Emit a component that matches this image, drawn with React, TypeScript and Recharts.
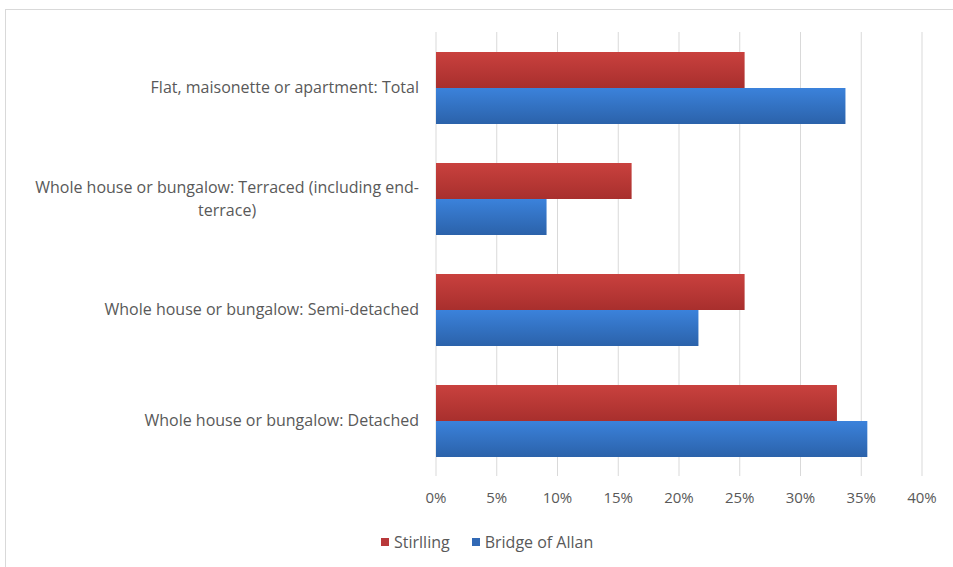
import React from "react";
import { BarChart, Bar, XAxis, YAxis, CartesianGrid } from "recharts";

const categories = [
  "Flat, maisonette or apartment: Total",
  "Whole house or bungalow: Terraced (including end-|terrace)",
  "Whole house or bungalow: Semi-detached",
  "Whole house or bungalow: Detached",
];
const stirlling = [25.4, 16.1, 25.4, 33.0];
const bridgeOfAllan = [33.7, 9.1, 21.6, 35.5];
const xTicks = [0, 5, 10, 15, 20, 25, 30, 35, 40];

const data = categories.map((name, i) => ({
  name,
  stirlling: stirlling[i],
  bridge: bridgeOfAllan[i],
}));

const FONT = "'Open Sans', sans-serif";
const TEXT = "#595959";
const LABEL_SIZE = 16;

let ctx: CanvasRenderingContext2D | null = null;
function measure(s: string, size: number) {
  if (!ctx) ctx = document.createElement("canvas").getContext("2d");
  if (!ctx) return s.length * size * 0.5;
  ctx.font = `${size}px ${FONT}`;
  return ctx.measureText(s).width;
}

function CategoryTick({ x, y, payload }: any) {
  const lines = String(payload.value).split("|");
  const right = x - 9;
  if (lines.length === 1) {
    return (
      <text x={right} y={y} dy="0.35em" textAnchor="end" fill={TEXT} fontSize={LABEL_SIZE} fontFamily={FONT}>
        {lines[0]}
      </text>
    );
  }
  const w = measure(lines[0], LABEL_SIZE);
  const cx = right - w / 2;
  const lh = 23;
  const top = y - ((lines.length - 1) * lh) / 2;
  return (
    <g>
      {lines.map((l, i) => (
        <text key={i} x={cx} y={top + i * lh} dy="0.35em" textAnchor="middle" fill={TEXT} fontSize={LABEL_SIZE} fontFamily={FONT}>
          {l}
        </text>
      ))}
    </g>
  );
}

export default function App() {
  return (
    <div style={{ position: "absolute", left: 0, top: 0, width: 953, height: 567, overflow: "hidden", background: "#fff" }}>
      <div style={{ position: "absolute", left: 5, top: 9, width: 980, height: 600, border: "1px solid #d9d9d9" }} />
      <div style={{ position: "absolute", left: 0, top: 0 }}>
        <BarChart
          width={953}
          height={567}
          data={data}
          layout="vertical"
          margin={{ top: 32, right: 31, bottom: 51, left: 0 }}
          barGap={0}
        >
          <defs>
            <linearGradient id="redGrad" x1="0" y1="0" x2="0" y2="1">
              <stop offset="0%" stopColor="#c9413e" />
              <stop offset="100%" stopColor="#a82f2d" />
            </linearGradient>
            <linearGradient id="blueGrad" x1="0" y1="0" x2="0" y2="1">
              <stop offset="0%" stopColor="#3b82db" />
              <stop offset="100%" stopColor="#2b62aa" />
            </linearGradient>
          </defs>
          <CartesianGrid horizontal={false} stroke="#d9d9d9" />
          <XAxis
            type="number"
            domain={[0, 40]}
            ticks={xTicks}
            tickFormatter={(v) => `${v}%`}
            axisLine={false}
            tickLine={false}
            height={40}
            tickMargin={10}
            tick={{ fill: TEXT, fontSize: 15, fontFamily: FONT }}
          />
          <YAxis
            type="category"
            dataKey="name"
            width={436}
            axisLine={false}
            tickLine={false}
            tick={<CategoryTick />}
          />
          <Bar dataKey="stirlling" name="Stirlling" fill="url(#redGrad)" barSize={36} isAnimationActive={false} />
          <Bar dataKey="bridge" name="Bridge of Allan" fill="url(#blueGrad)" barSize={36} isAnimationActive={false} />
        </BarChart>
      </div>
      <div
        style={{
          position: "absolute",
          left: 381,
          top: 531,
          display: "flex",
          gap: 22,
          fontFamily: FONT,
          fontSize: 16,
          color: TEXT,
        }}
      >
        {[
          { label: "Stirlling", color: "#b8383a" },
          { label: "Bridge of Allan", color: "#3169b5" },
        ].map((it) => (
          <div key={it.label} style={{ display: "flex", alignItems: "center" }}>
            <span style={{ display: "inline-block", width: 8, height: 8, background: it.color, marginRight: 5 }} />
            <span>{it.label}</span>
          </div>
        ))}
      </div>
    </div>
  );
}
